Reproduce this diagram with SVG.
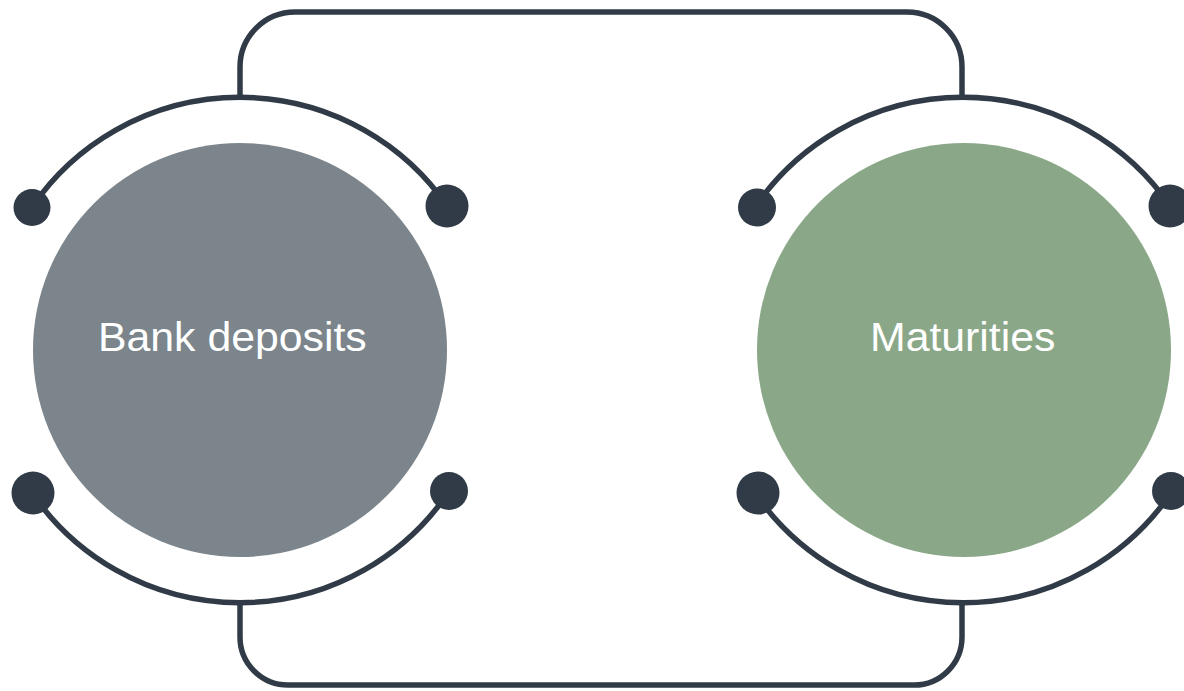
<svg xmlns="http://www.w3.org/2000/svg" width="1184" height="691" viewBox="0 0 1184 691">
<style>
.wire{fill:none;stroke:#303b47;stroke-width:5.5;stroke-linecap:butt}
.dot{fill:#303b47}
.lbl{fill:#ffffff;font-family:"Liberation Sans",Arial,sans-serif;font-size:40px}
</style>
<rect width="1184" height="691" fill="#ffffff"/>
<g id="connectors">
<path class="wire" d="M240,98 V67 A55,55 0 0 1 295,12 H907 A55,55 0 0 1 962,67 V98"/>
<path class="wire" d="M240,602 V637 A48,48 0 0 0 288,685 H914 A48,48 0 0 0 962,637 V602"/>
</g>
<g id="bank-deposits">
<circle cx="240" cy="350" r="207" fill="#7b858b"/>
<path class="wire" d="M32,207 A252,252 0 0 1 448,207"/>
<path class="wire" d="M32,493 A252,252 0 0 0 448,493"/>
<circle class="dot" cx="32" cy="207.5" r="18.5"/>
<circle class="dot" cx="447" cy="206" r="21.5"/>
<circle class="dot" cx="33" cy="493" r="21.5"/>
<circle class="dot" cx="449" cy="491" r="19"/>
<text class="lbl" transform="translate(98 351) scale(1.07 1)">Bank deposits</text>
</g>
<g id="maturities">
<circle cx="964" cy="350" r="207" fill="#8aa888"/>
<path class="wire" d="M755,207 A252,252 0 0 1 1171,207"/>
<path class="wire" d="M755,493 A252,252 0 0 0 1171,493"/>
<circle class="dot" cx="757" cy="207.5" r="19"/>
<circle class="dot" cx="1170" cy="206" r="21.5"/>
<circle class="dot" cx="758" cy="493" r="21.5"/>
<circle class="dot" cx="1171" cy="491" r="19"/>
<text class="lbl" transform="translate(870 351) scale(1.07 1)">Maturities</text>
</g>
</svg>
